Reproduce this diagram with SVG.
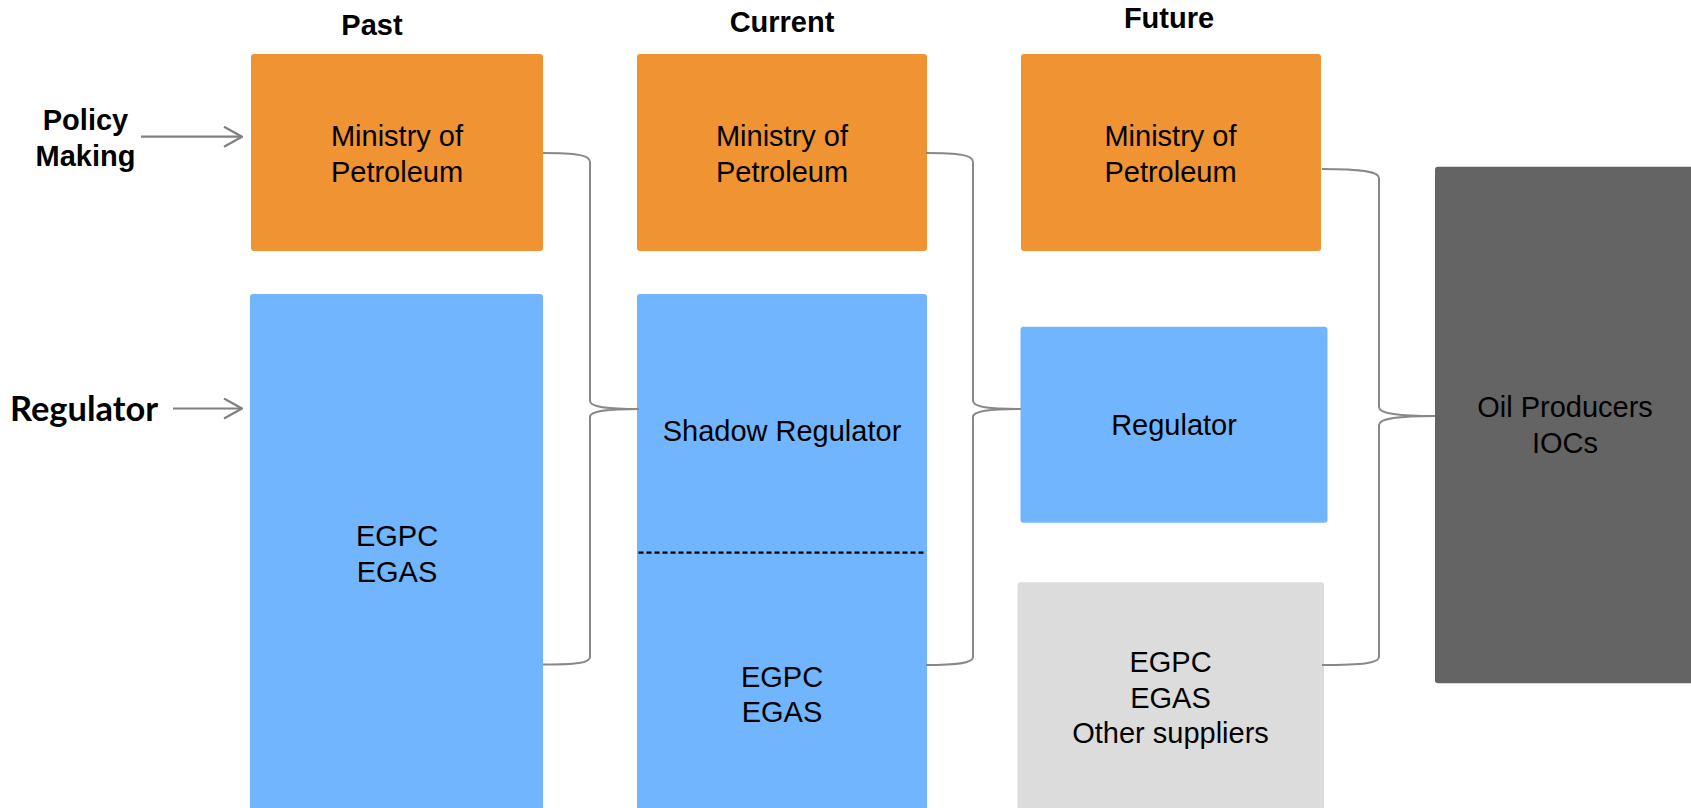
<svg xmlns="http://www.w3.org/2000/svg" width="1691" height="808" viewBox="0 0 1691 808">
  <defs>
    <style>
      .head { font-family: "Liberation Sans", Arial, sans-serif; font-size: 29px; font-weight: bold; fill: #000; text-anchor: middle; }
      .side { font-family: Lato, "Liberation Sans", sans-serif; font-size: 34px; font-weight: bold; fill: #000; }
      .lbl { font-family: "Liberation Sans", Arial, sans-serif; font-size: 29px; fill: #000; text-anchor: middle; }
      .orange { fill: #F09332; }
      .blue { fill: #71B5FE; }
      .light { fill: #DCDCDC; }
      .dark { fill: #646464; }
      .brace { fill: none; stroke: #888888; stroke-width: 2; }
      .pointer { fill: none; stroke: #808080; stroke-width: 2.2; }
    </style>
    <marker id="chev" viewBox="0 0 20 22" refX="19" refY="11" markerWidth="20" markerHeight="22" markerUnits="userSpaceOnUse" orient="auto">
      <path d="M1,1 L19,11 L1,21" fill="none" stroke="#808080" stroke-width="2.2"/>
    </marker>
  </defs>

  <rect width="1691" height="808" fill="#FFFFFF"/>

  <!-- column headings -->
  <g id="headings">
    <text class="head" x="372" y="35">Past</text>
    <text class="head" x="782" y="32">Current</text>
    <text class="head" x="1169" y="28">Future</text>
  </g>

  <!-- row labels -->
  <g id="label-policy">
    <text class="head" x="85.5" y="130">Policy</text>
    <text class="head" x="85.5" y="166">Making</text>
  </g>
  <g id="label-regulator">
    <text class="side" x="10" y="421" textLength="148" lengthAdjust="spacingAndGlyphs">Regulator</text>
  </g>

  <!-- Past column -->
  <g id="past-ministry">
    <rect class="orange" x="251" y="54" width="292" height="197" rx="3"/>
    <text class="lbl" x="397" y="146">Ministry of</text>
    <text class="lbl" x="397" y="182">Petroleum</text>
  </g>
  <g id="past-egpc">
    <rect class="blue" x="250" y="294" width="293" height="530" rx="3"/>
    <text class="lbl" x="397" y="546">EGPC</text>
    <text class="lbl" x="397" y="582">EGAS</text>
  </g>

  <!-- Current column -->
  <g id="current-ministry">
    <rect class="orange" x="637" y="54" width="290" height="197" rx="3"/>
    <text class="lbl" x="782" y="146">Ministry of</text>
    <text class="lbl" x="782" y="182">Petroleum</text>
  </g>
  <g id="current-regulator">
    <rect class="blue" x="637" y="294" width="290" height="530" rx="3"/>
    <text class="lbl" x="782" y="441">Shadow Regulator</text>
    <line x1="638.5" y1="552.7" x2="925" y2="552.7" stroke="#000" stroke-width="2.2" stroke-dasharray="5,3"/>
    <text class="lbl" x="782" y="687">EGPC</text>
    <text class="lbl" x="782" y="722">EGAS</text>
  </g>

  <!-- Future column -->
  <g id="future-ministry">
    <rect class="orange" x="1021" y="54" width="300" height="197" rx="3"/>
    <text class="lbl" x="1170.5" y="146">Ministry of</text>
    <text class="lbl" x="1170.5" y="182">Petroleum</text>
  </g>
  <g id="future-regulator">
    <rect class="blue" x="1020.5" y="326.7" width="307" height="196" rx="3"/>
    <text class="lbl" x="1174" y="435">Regulator</text>
  </g>
  <g id="future-suppliers">
    <rect class="light" x="1017.5" y="582.3" width="306.5" height="240" rx="3"/>
    <text class="lbl" x="1170.5" y="672">EGPC</text>
    <text class="lbl" x="1170.5" y="708">EGAS</text>
    <text class="lbl" x="1170.5" y="743">Other suppliers</text>
  </g>

  <!-- producers -->
  <g id="oil-producers">
    <rect class="dark" x="1435" y="166.7" width="270" height="516.6" rx="3"/>
    <text class="lbl" x="1565" y="417" fill="#111">Oil Producers</text>
    <text class="lbl" x="1565" y="453" fill="#111">IOCs</text>
  </g>

  <!-- connectors -->
  <g id="connectors">
    <line class="pointer" x1="141" y1="136.7" x2="242" y2="136.7" marker-end="url(#chev)"/>
    <line class="pointer" x1="173" y1="408.5" x2="242" y2="408.5" marker-end="url(#chev)"/>

    <!-- past to current -->
    <path class="brace" d="M543,153 C576,153 590,155 590,162 L590,401 C590,407 606,409 639,409 C606,409 590,411 590,417 L590,657 C590,663 576,664.5 543,664.5"/>
    <!-- current to future -->
    <path class="brace" d="M926,153 C959,153 973,155 973,162 L973,401 C973,407 989,409 1021,409 C989,409 973,411 973,417 L973,657 C973,663 959,665 926,665"/>
    <!-- future to producers -->
    <path class="brace" d="M1322,169 C1364,169 1379,172 1379,178 L1379,407 C1379,413 1395,416 1435,416 C1395,416 1379,419 1379,425 L1379,657 C1379,663 1364,665 1322,665"/>
  </g>
</svg>
